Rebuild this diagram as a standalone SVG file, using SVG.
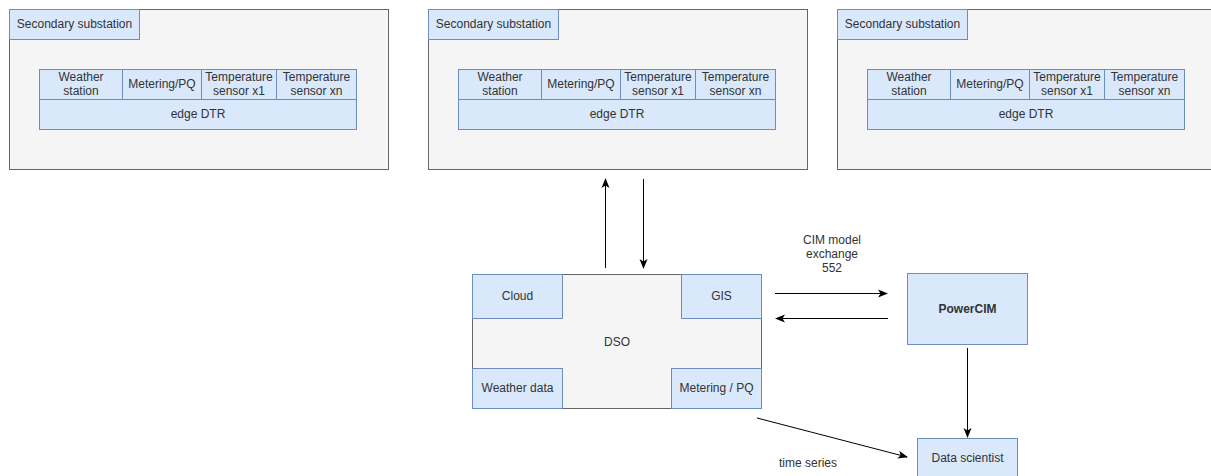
<svg xmlns="http://www.w3.org/2000/svg" width="1211" height="476" viewBox="0 0 1211 476">
<style>
.outer{fill:#f5f5f5;stroke:#666666;stroke-width:1}
.blue{fill:#dae8fc;stroke:#6c8ebf;stroke-width:1}
text{font-family:"Liberation Sans",Arial,sans-serif;font-size:12px;fill:#333333;text-anchor:middle}
.b{font-weight:bold}
.edge{stroke:#000000;stroke-width:1;fill:none}
</style>
<defs>
<marker id="arr" viewBox="0 0 10 10" refX="9" refY="5" markerWidth="10" markerHeight="10" markerUnits="userSpaceOnUse" orient="auto">
<path d="M0,1 L10,5 L0,9 L2.5,5 Z" fill="#000000"/>
</marker>
<g id="sub">
<rect class="outer" x="0.5" y="0.5" width="379" height="160"/>
<rect class="blue" x="0.5" y="0.5" width="130" height="30"/>
<text x="65.5" y="18.5">Secondary substation</text>
<rect class="blue" x="30.5" y="60.5" width="83" height="30"/>
<rect class="blue" x="113.5" y="60.5" width="79" height="30"/>
<rect class="blue" x="192.5" y="60.5" width="75" height="30"/>
<rect class="blue" x="267.5" y="60.5" width="80" height="30"/>
<rect class="blue" x="30.5" y="90.5" width="317" height="30"/>
<text x="72" y="71.5">Weather</text>
<text x="72" y="85.5">station</text>
<text x="153" y="78.5">Metering/PQ</text>
<text x="230" y="71.5">Temperature</text>
<text x="230" y="85.5">sensor x1</text>
<text x="307.5" y="71.5">Temperature</text>
<text x="307.5" y="85.5">sensor xn</text>
<text x="189" y="108.5">edge DTR</text>
</g>
</defs>
<g id="substation1"><use href="#sub" x="9" y="9"/></g>
<g id="substation2"><use href="#sub" x="428" y="9"/></g>
<g id="substation3"><use href="#sub" x="837" y="9"/></g>
<g id="dso">
<rect class="outer" x="472.5" y="274.5" width="289" height="134"/>
<text x="617" y="345.5">DSO</text>
</g>
<g id="cloud"><rect class="blue" x="472.5" y="274.5" width="90" height="44"/><text x="517.5" y="300">Cloud</text></g>
<g id="gis"><rect class="blue" x="681.5" y="274.5" width="80" height="44"/><text x="721.5" y="300">GIS</text></g>
<g id="weatherdata"><rect class="blue" x="472.5" y="368.5" width="90" height="40"/><text x="517.5" y="392">Weather data</text></g>
<g id="metering"><rect class="blue" x="671.5" y="368.5" width="90" height="40"/><text x="716.5" y="392">Metering / PQ</text></g>
<g id="powercim"><rect class="blue" x="907.5" y="273.5" width="120" height="71"/><text class="b" x="967.5" y="312.5">PowerCIM</text></g>
<g id="datascientist"><rect class="blue" x="917.5" y="438.5" width="100" height="40"/><text x="967.5" y="462">Data scientist</text></g>
<g id="connectors">
<line class="edge" x1="605.5" y1="268" x2="605.5" y2="179" marker-end="url(#arr)"/>
<line class="edge" x1="643.5" y1="179" x2="643.5" y2="268" marker-end="url(#arr)"/>
<line class="edge" x1="775" y1="293.5" x2="887" y2="293.5" marker-end="url(#arr)"/>
<line class="edge" x1="888" y1="318.5" x2="776" y2="318.5" marker-end="url(#arr)"/>
<line class="edge" x1="967.5" y1="348" x2="967.5" y2="437" marker-end="url(#arr)"/>
<line class="edge" x1="757" y1="418" x2="907" y2="457" marker-end="url(#arr)"/>
<text x="832" y="243.5">CIM model</text>
<text x="832" y="257.5">exchange</text>
<text x="832" y="271.5">552</text>
<text x="808" y="467">time series</text>
</g>
</svg>
